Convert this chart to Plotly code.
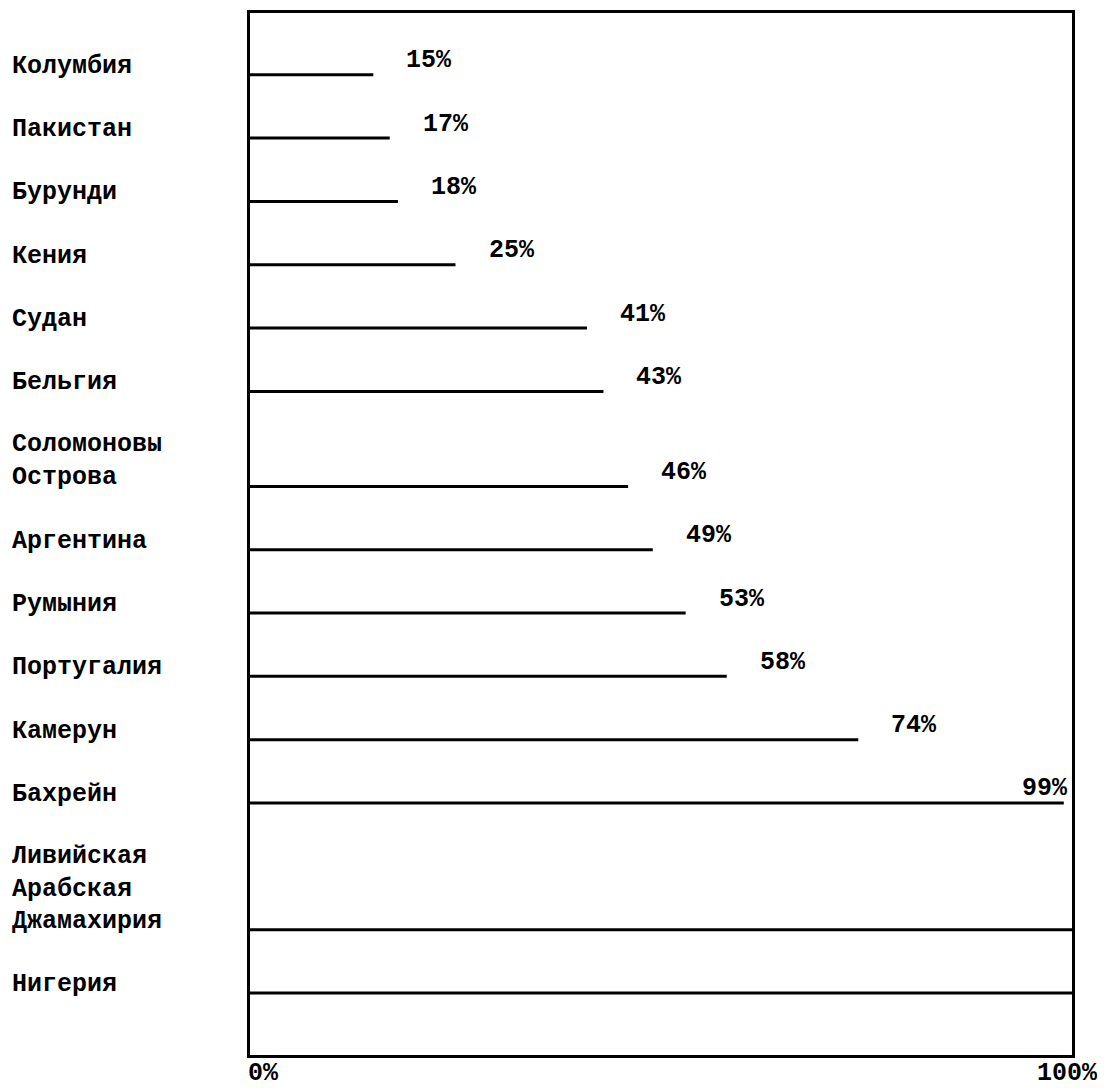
import plotly.graph_objects as go

countries = [
    "Колумбия", "Пакистан", "Бурунди", "Кения", "Судан", "Бельгия",
    "Соломоновы<br>Острова", "Аргентина", "Румыния", "Португалия",
    "Камерун", "Бахрейн", "Ливийская<br>Арабская<br>Джамахирия", "Нигерия",
]
values = [15, 17, 18, 25, 41, 43, 46, 49, 53, 58, 74, 99, 100, 100]
value_labels = ["15%", "17%", "18%", "25%", "41%", "43%", "46%", "49%",
                "53%", "58%", "74%", "99%", "", ""]
axis_labels = ["0%", "100%"]
axis_values = [0, 100]

FONT = "Liberation Mono"
FS = 25

# row positions: each extra text line of a label adds half a row of space
ypos = []
cur = 0.0
for i, c in enumerate(countries):
    n = c.count("<br>") + 1
    if i > 0:
        cur += 1 + 0.5 * (n - 1)
    ypos.append(cur)

xs, ys = [], []
for v, y in zip(values, ypos):
    xs += [0, v, None]
    ys += [y, y, None]

fig = go.Figure()
fig.add_trace(go.Scatter(x=xs, y=ys, mode="lines",
                         line=dict(color="black", width=3),
                         hoverinfo="skip", showlegend=False, cliponaxis=False))

font = dict(family=FONT, size=FS, color="black", weight="bold")
annotations = []
for c, y in zip(countries, ypos):
    annotations.append(dict(x=0, y=y, xref="x", yref="y", text=c,
                            xanchor="left", yanchor="bottom", align="left",
                            xshift=-240, yshift=-8, showarrow=False, font=font))
for v, t, y in zip(values, value_labels, ypos):
    if not t:
        continue
    if v > 90:
        annotations.append(dict(x=100, y=y, xref="x", yref="y", text=t,
                                xanchor="right", yanchor="middle",
                                xshift=-2, yshift=14, showarrow=False, font=font))
    else:
        annotations.append(dict(x=v, y=y, xref="x", yref="y", text=t,
                                xanchor="left", yanchor="middle",
                                xshift=31, yshift=14, showarrow=False, font=font))
for t, v in zip(axis_labels, axis_values):
    annotations.append(dict(x=v, y=0, xref="x", yref="paper", text=t,
                            xanchor=("left" if v == 0 else "right"),
                            yanchor="top",
                            xshift=(-4 if v == 0 else 28), yshift=-2,
                            showarrow=False, font=font))

fig.update_layout(
    width=1097, height=1080,
    margin=dict(l=242, r=33, t=2, b=33),
    plot_bgcolor="white", paper_bgcolor="white",
    annotations=annotations,
    xaxis=dict(range=[0, 100], showgrid=False, zeroline=False,
               showticklabels=False, ticks="",
               showline=True, mirror=True, linecolor="black", linewidth=3),
    yaxis=dict(range=[15.48, -0.976], showgrid=False, zeroline=False,
               showticklabels=False, ticks="",
               showline=True, mirror=True, linecolor="black", linewidth=3),
)

fig.write_html("out.html")
